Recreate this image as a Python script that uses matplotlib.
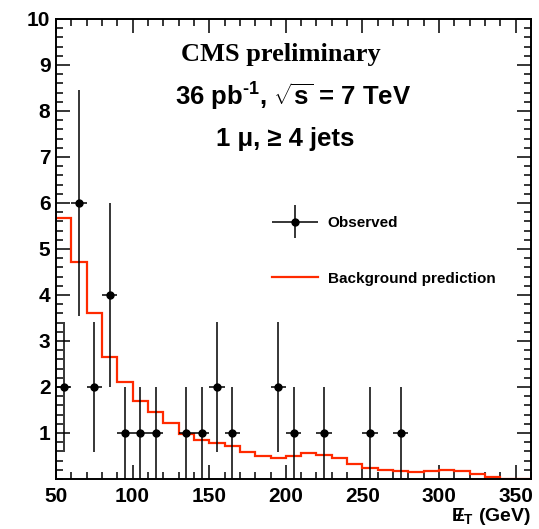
import numpy as np
import matplotlib
matplotlib.use("Agg")
import matplotlib.pyplot as plt
from matplotlib.lines import Line2D
from matplotlib.ticker import MultipleLocator
from matplotlib.legend_handler import HandlerErrorbar

plt.rcParams['font.family'] = ['Liberation Sans', 'DejaVu Sans']
plt.rcParams['font.weight'] = 'bold'
plt.rcParams['mathtext.fontset'] = 'custom'
plt.rcParams['mathtext.rm'] = 'Liberation Sans:bold'
plt.rcParams['mathtext.bf'] = 'Liberation Sans:bold'
plt.rcParams['mathtext.it'] = 'Liberation Sans:bold'

# ---- data ----
bin_edges = [50, 60, 70, 80, 90, 100, 110, 120, 130, 140, 150, 160, 170, 180, 190,
             200, 210, 220, 230, 240, 250, 260, 270, 280, 290, 300, 310, 320, 330,
             340, 350, 360]
background = [5.68, 4.71, 3.60, 2.66, 2.10, 1.70, 1.45, 1.21, 0.97, 0.85, 0.79, 0.72,
              0.59, 0.51, 0.45, 0.49, 0.56, 0.52, 0.45, 0.33, 0.25, 0.20, 0.17, 0.15,
              0.18, 0.20, 0.18, 0.11, 0.04, 0.01, 0.005]
observed = [2, 6, 2, 4, 1, 1, 1, 0, 1, 1, 2, 1, 0, 0, 2, 1, 0, 1, 0, 0, 1, 0, 1, 0,
            0, 0, 0, 0, 0, 0, 0]
x_ticks = [50, 100, 150, 200, 250, 300, 350]
y_ticks = [1, 2, 3, 4, 5, 6, 7, 8, 9, 10]

edges = np.array(bin_edges, dtype=float)
centers = 0.5 * (edges[:-1] + edges[1:])
half = 0.5 * (edges[1:] - edges[:-1])
obs = np.array(observed, dtype=float)
mask = obs > 0

fig = plt.figure(figsize=(5.39, 5.29), dpi=100)
ax = fig.add_axes([56/539, 1 - 479/529, 475/539, 460/529])

red = '#ff2a00'
ax.stairs(background, edges, baseline=None, color=red, lw=1.6, zorder=2)
eb = ax.errorbar(centers[mask], obs[mask], xerr=half[mask], yerr=np.sqrt(obs[mask]),
                 fmt='o', color='black', ms=5, elinewidth=1.1, capsize=0, zorder=3)

ax.set_xlim(50, 360)
ax.set_ylim(0, 10)
ax.set_xticks(x_ticks)
ax.set_yticks(y_ticks)
ax.xaxis.set_minor_locator(MultipleLocator(10))
ax.yaxis.set_minor_locator(MultipleLocator(0.2))
ax.tick_params(which='both', direction='in', top=True, right=True, width=1.1,
               labelsize=15)
ax.tick_params(which='major', length=10)
ax.tick_params(which='minor', length=5)
ax.tick_params(axis='x', pad=6)
ax.tick_params(axis='y', pad=4)
for lab in ax.get_xticklabels() + ax.get_yticklabels():
    lab.set_fontweight('bold')
for s in ax.spines.values():
    s.set_linewidth(1.4)

ax.set_xlabel(r'$/\!\!\!\!E_{T}$ (GeV)', fontsize=14, fontweight='bold', loc='right',
              labelpad=0)

ax.text(0.474, 0.922, 'CMS preliminary', transform=ax.transAxes, ha='center',
        va='center', fontsize=19, fontweight='bold', family='Liberation Serif')
ax.text(0.499, 0.83, '36 pb$^{\u2010 1}$, $\\sqrt{s}$ = 7 TeV', transform=ax.transAxes,
        ha='center', va='center', fontsize=18.5, fontweight='bold')
ax.text(0.482, 0.739, '1 μ, ≥ 4 jets', transform=ax.transAxes, ha='center',
        va='center', fontsize=18.5, fontweight='bold')

handles = [eb, Line2D([], [], color=red, lw=1.6)]
labels = ['Observed', 'Background prediction']
leg = ax.legend(handles, labels, loc='upper left', bbox_to_anchor=(0.442, 0.585),
                frameon=False, fontsize=11, handlelength=3.0, handletextpad=0.65,
                labelspacing=2.73, borderaxespad=0,
                handler_map={type(eb): HandlerErrorbar(xerr_size=1.5, yerr_size=1.1)})
for t in leg.get_texts():
    t.set_fontweight('bold')

fig.savefig('out.png', dpi=100)
